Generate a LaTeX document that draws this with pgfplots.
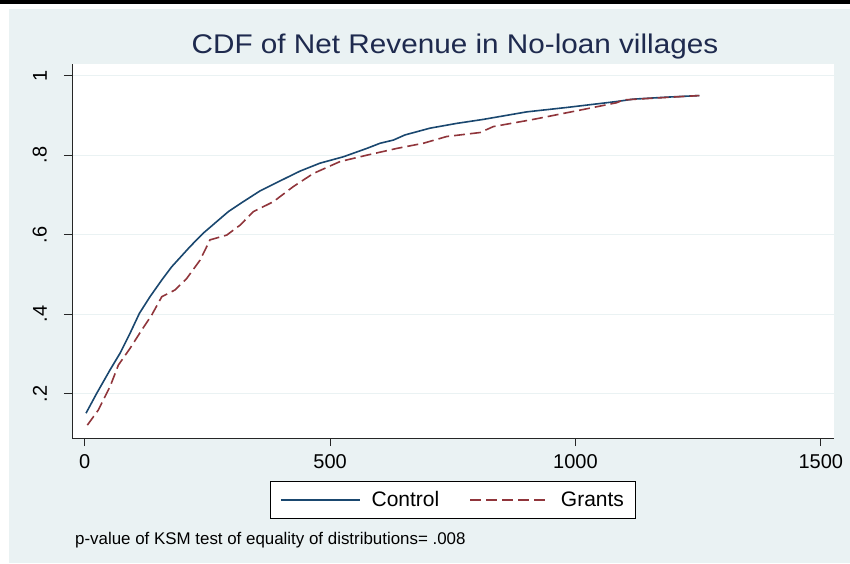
\documentclass[border=0pt]{standalone}
\usepackage{fontspec}
\setmainfont{Liberation Sans}
\usepackage{pgfplots}
\pgfplotsset{compat=1.18}
\definecolor{bg}{RGB}{234,242,243}
\definecolor{ctrl}{RGB}{26,71,111}
\definecolor{grant}{RGB}{144,53,59}
\definecolor{ttl}{RGB}{30,42,78}
\pgfplotstableread{
x y
2.6 0.151
24.4 0.201
51.6 0.260
72 0.302
92.3 0.352
111.3 0.402
133 0.444
157 0.486
177 0.519
214.6 0.570
241.7 0.604
269 0.633
292.6 0.658
323 0.683
357 0.710
391 0.731
438.8 0.760
479.5 0.780
527 0.796
574.7 0.817
601.8 0.830
628.9 0.838
652.7 0.851
703.7 0.868
758 0.880
812 0.890
900.8 0.909
982 0.920
1084 0.935
1118 0.941
1186 0.946
1252.5 0.950
}\control
\pgfplotstableread{
x y
5.3 0.121
27.7 0.159
51.6 0.218
68.5 0.272
92.3 0.314
116 0.360
136.5 0.398
157 0.444
184 0.461
207.9 0.490
235 0.536
255.3 0.587
289.4 0.599
316.5 0.624
343.6 0.658
384.4 0.683
425 0.721
465.9 0.754
520.3 0.784
574.7 0.800
635.8 0.817
690 0.830
737.7 0.847
805.6 0.857
832.7 0.872
914 0.890
1016 0.915
1084 0.932
1097.6 0.939
1152 0.943
1252.5 0.950
}\grants
\begin{document}
\begin{tikzpicture}[x=1pt,y=1pt]
\fill[white] (0,0) rectangle (850,-563);
\fill[black] (0,0) rectangle (850,-4);
\fill[bg] (9,-9) rectangle (850,-563);
\node[anchor=base, font=\fontsize{27}{30}\selectfont, text=ttl, inner sep=0pt] at (455,-53.3) {\scalebox{1.1}[1]{CDF of Net Revenue in No-loan villages}};
\begin{axis}[
  at={(72pt,-438pt)}, anchor=south west,
  scale only axis, width=762pt, height=374pt,
  xmin=-26, xmax=1527, ymin=0.0885, ymax=1.0294,
  axis x line*=bottom, axis y line*=left,
  axis line style={black!85, line width=0.8pt, -},
  tick align=outside, major tick length=8pt,
  tick style={black!85, line width=0.8pt},
  ytick={0.2,0.4,0.6,0.8,1}, yticklabels={.2,.4,.6,.8,1},
  xtick={0,500,1000,1500}, xticklabels={0,500,1000,1500},
  ymajorgrids, grid style={bg, line width=1.3pt},
  axis background/.style={fill=white},
  tick label style={font=\fontsize{20}{24}\selectfont},
  yticklabel style={xshift=-17pt, rotate=90, anchor=south, inner sep=0pt},
  xticklabel style={yshift=-8pt, anchor=north, inner sep=0pt},
  legend columns=2,
  legend cell align=left,
  legend style={at={(0.5,-0.1142)}, anchor=north, draw=black, line width=0.7pt, fill=white,
    inner xsep=9.5pt, inner ysep=8.5pt, font=\fontsize{21}{24}\selectfont,
    nodes={inner sep=2pt},
    /tikz/every odd column/.append style={column sep=9pt},
    /tikz/every even column/.append style={column sep=28pt}},
  legend image code/.code={\draw[#1] (0pt,0pt) -- (79pt,0pt);},
]
\addplot[ctrl, line width=1.6pt] table[x=x,y=y] {\control};
\addlegendentry{Control}
\addplot[grant, line width=1.6pt, dash pattern=on 11pt off 5pt] table[x=x,y=y] {\grants};
\addlegendentry{Grants}
\end{axis}
\node[anchor=base west, font=\fontsize{16.9}{20}\selectfont, inner sep=0pt] at (75,-544) {p-value of KSM test of equality of distributions= .008};
\end{tikzpicture}
\end{document}
